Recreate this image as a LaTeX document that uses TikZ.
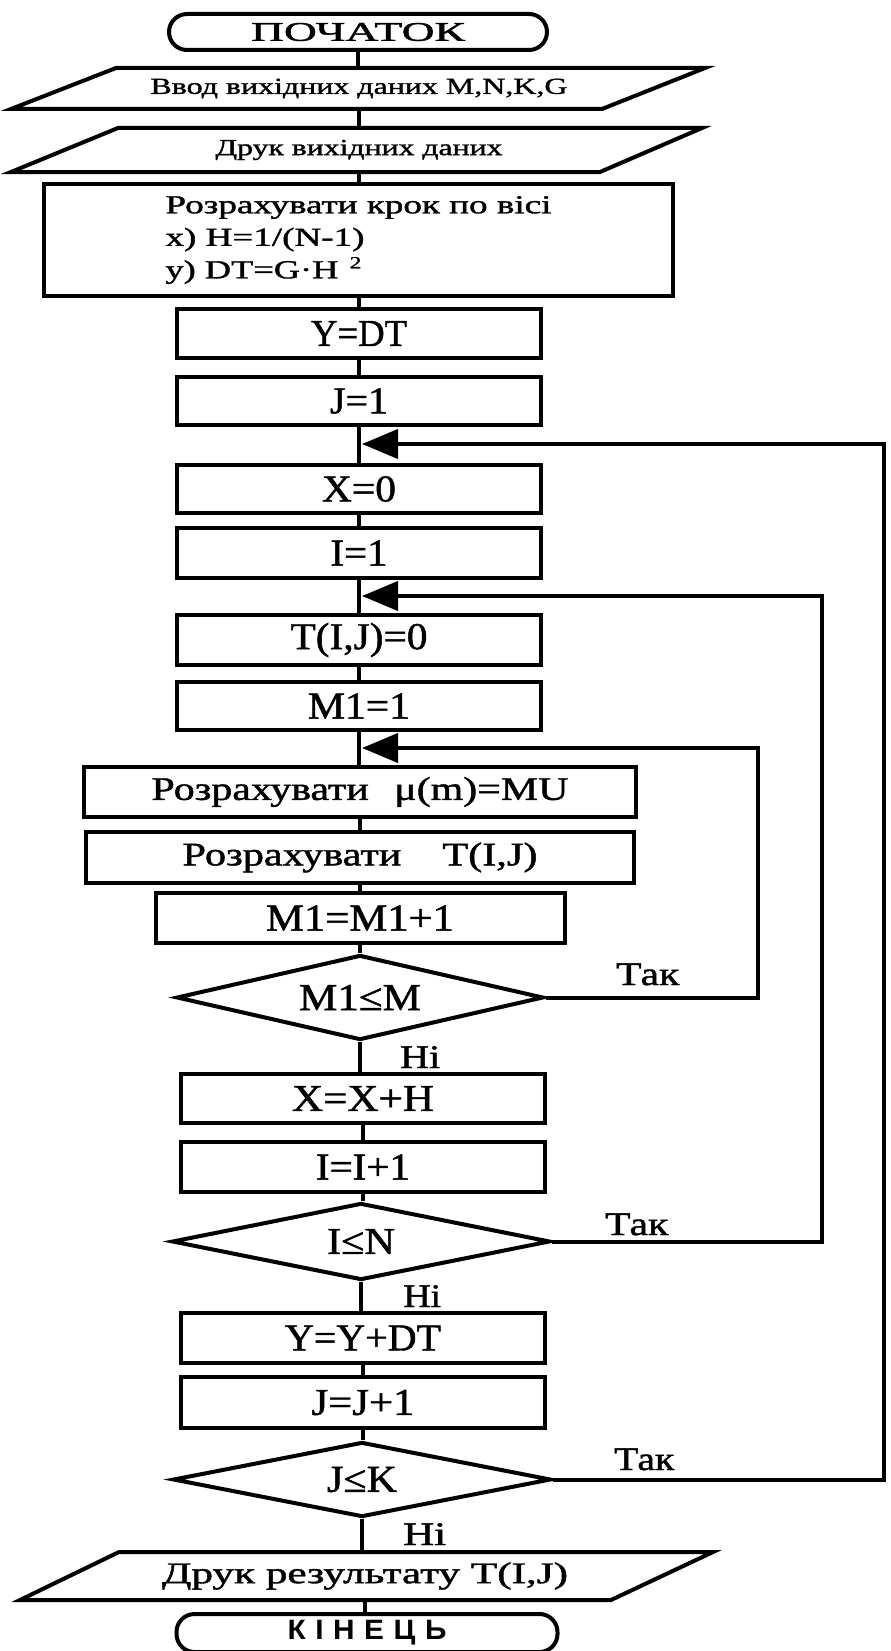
\documentclass[tikz,border=0pt]{standalone}
\usepackage{fontspec}
\setmainfont{Liberation Serif}[FakeBold=1.2]
\newfontfamily\sansfam{Liberation Sans}
\usetikzlibrary{shapes.geometric,arrows.meta,calc}
\newcommand\tw[2]{\resizebox{#1pt}{\height}{#2}}
\begin{document}
\begin{tikzpicture}[x=1pt,y=-1pt,
  lw/.style={line width=4pt},
  box/.style={draw, lw, rectangle, inner sep=0pt, minimum width=364pt, font=\fontsize{38}{44}\selectfont},
  term/.style={draw, lw, rectangle, rounded corners=18pt, inner sep=0pt},
  dec/.style={draw, lw, diamond, inner sep=0pt, font=\fontsize{38}{44}\selectfont},
  io/.style={inner sep=0pt, outer sep=0pt, minimum width=10pt},
  conn/.style={lw},
  back/.style={lw, -{Triangle[length=36pt,width=29pt]}},
  lab/.style={anchor=base west, inner sep=0pt, font=\fontsize{33}{40}\selectfont},
]
\fill[white] (0,0) rectangle (891,1651);
\useasboundingbox (0,0) rectangle (891,1651);

% terminals and I/O
\node[term, minimum width=378pt, minimum height=36pt, font=\fontsize{27}{30}\selectfont] (start) at (358,32) {\tw{214}{ПОЧАТОК}};
\node[io, minimum height=41pt, font=\fontsize{23}{26}\selectfont] (p1) at (359,88.5) {\tw{417}{Ввод вихідних даних M,N,K,G}};
\node[io, minimum height=44pt, font=\fontsize{23}{26}\selectfont] (p2) at (359,150) {\tw{287}{Друк вихідних даних}};
\draw[lw] ($(p1.north)+(-243,0)$) -- ($(p1.north)+(346,0)$) -- ($(p1.south)+(243,0)$) -- ($(p1.south)+(-348,0)$) -- cycle;
\draw[lw] ($(p2.north)+(-241,0)$) -- ($(p2.north)+(343,0)$) -- ($(p2.south)+(241,0)$) -- ($(p2.south)+(-348,0)$) -- cycle;

\node[box, minimum width=629pt, minimum height=112pt, align=left, font=\fontsize{26}{32.5}\selectfont] (calc) at (358.5,240)
  {\tw{386}{Розрахувати крок по вісі}\\ \tw{199}{x) H=1/(N-1)}\\ \tw{196}{y) DT=G·H\hspace{8pt}\raisebox{10pt}{\fontsize{17}{18}\selectfont 2}}};

\node[box, minimum height=49pt] (ydt) at (359,333.5) {\tw{96}{Y=DT}};
\node[box, minimum height=48pt] (j1) at (359,401) {\tw{58}{J=1}};
\node[box, minimum height=48pt] (x0) at (359,489) {\tw{74}{X=0}};
\node[box, minimum height=50pt] (i1) at (359,553) {\tw{57}{I=1}};
\node[box, minimum height=50pt] (t0) at (359,640) {\tw{137}{T(I,J)=0}};
\node[box, minimum height=48pt] (m1) at (359,706) {\tw{102}{M1=1}};
\node[box, minimum width=552pt, minimum height=50pt, font=\fontsize{33}{40}\selectfont] (mu) at (360,792) {\tw{417}{Розрахувати\hspace{20pt}μ(m)=MU}};
\node[box, minimum width=548pt, minimum height=51pt, font=\fontsize{33}{40}\selectfont] (tc) at (360,857.5) {\tw{355}{Розрахувати\hspace{32pt}T(I,J)}};
\node[box, minimum width=409pt, minimum height=50pt] (m1p) at (360,918) {\tw{188}{M1=M1+1}};
\node[dec, minimum width=367pt, minimum height=85pt, aspect=4.3] (d1) at (360,997.5) {\tw{122}{M1≤M}};
\node[box, minimum height=49pt] (xh) at (363,1098.5) {\tw{142}{X=X+H}};
\node[box, minimum height=50pt] (ip) at (363,1167) {\tw{94}{I=I+1}};
\node[dec, minimum width=378pt, minimum height=77pt, aspect=4.9] (d2) at (361,1241.5) {\tw{68}{I≤N}};
\node[box, minimum height=50pt] (yy) at (363,1338) {\tw{156}{Y=Y+DT}};
\node[box, minimum height=51pt] (jj) at (363,1402.5) {\tw{103}{J=J+1}};
\node[dec, minimum width=378pt, minimum height=75pt, aspect=5] (d3) at (362,1479.5) {\tw{70}{J≤K}};
\node[io, minimum height=48pt, font=\fontsize{30}{34}\selectfont] (p3) at (365,1576) {\tw{406}{Друк результату T(I,J)}};
\draw[lw] ($(p3.north)+(-246,0)$) -- ($(p3.north)+(348,0)$) -- ($(p3.south)+(246,0)$) -- ($(p3.south)+(-345,0)$) -- cycle;
\node[term, minimum width=381pt, minimum height=38pt, font=\sansfam\bfseries\fontsize{28}{30}\selectfont] (end) at (367,1633)
  {\tw{159}{К\hspace{9pt}І\hspace{9pt}Н\hspace{9pt}Е\hspace{9pt}Ц\hspace{9pt}Ь}};

% main flow
\foreach \a/\b in {start/p1,p1/p2,p2/calc,calc/ydt,ydt/j1,j1/x0,x0/i1,i1/t0,t0/m1,m1/mu,mu/tc,tc/m1p,m1p/d1,d1/xh,xh/ip,ip/d2,d2/yy,yy/jj,jj/d3,d3/p3,p3/end}
  \draw[conn] (\a.south) -- (\a.south |- \b.north);

% loops
\coordinate (t1) at (362,444); \coordinate (r1) at (884,444);
\coordinate (t2) at (362,596); \coordinate (r2) at (822,596);
\coordinate (t3) at (362,748); \coordinate (r3) at (758,748);
\draw[back] (d3.east) -| (r1) -- (t1);
\draw[back] (d2.east) -| (r2) -- (t2);
\draw[back] (d1.east) -| (r3) -- (t3);

% labels
\node[lab] (y1) at (616,985) {\tw{63}{Так}};
\node[lab] (n1) at (400,1068) {\tw{40}{Ні}};
\node[lab] (y2) at (605,1235) {\tw{63}{Так}};
\node[lab] (n2) at (403,1307) {\tw{38}{Ні}};
\node[lab] (y3) at (614,1470) {\tw{60}{Так}};
\node[lab] (n3) at (403,1545) {\tw{43}{Ні}};
\end{tikzpicture}
\end{document}
